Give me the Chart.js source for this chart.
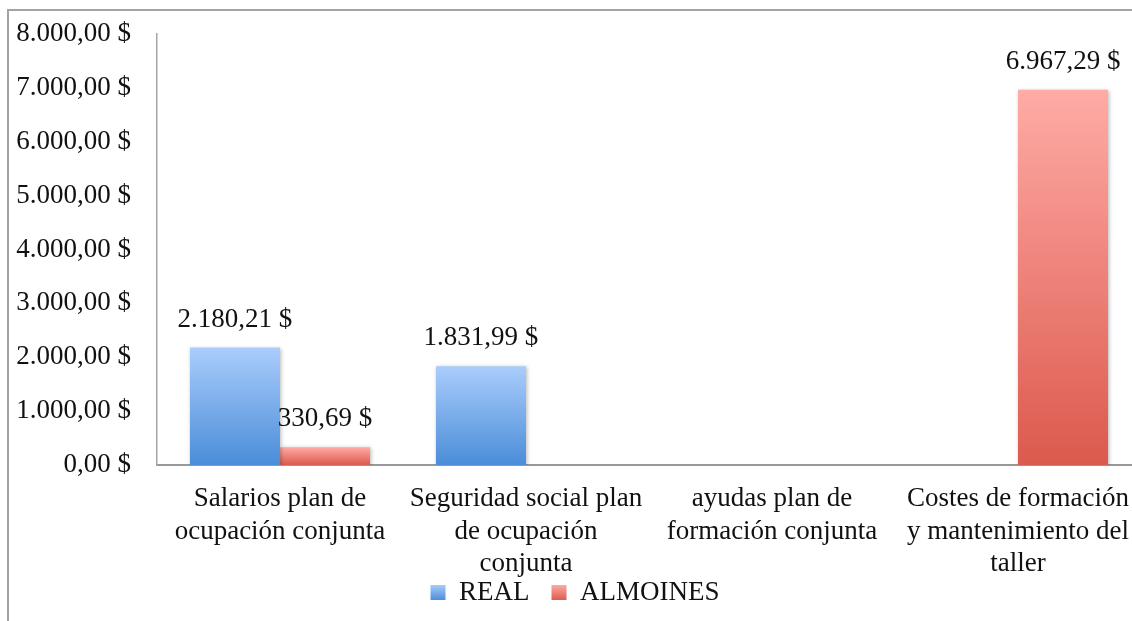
<!DOCTYPE html>
<html>
<head>
<meta charset="utf-8">
<script src="https://cdn.jsdelivr.net/npm/chart.js@4"></script>
<style>
  html, body { margin: 0; padding: 0; background: #fff; overflow: hidden; }
  body { width: 1132px; height: 621px; position: relative; }
  #frame {
    position: absolute; left: 7px; top: 9px;
    width: 1144px; height: 640px;
    border: 2px solid #a3a3a3;
  }
  #wrap { position: relative; width: 1144px; height: 640px; }
</style>
</head>
<body>
<div id="frame"><div id="wrap"><canvas id="costChart"></canvas></div></div>
<script>
// categories and series
const categories = [
  ['Salarios plan de', 'ocupación conjunta'],
  ['Seguridad social plan', 'de ocupación', 'conjunta'],
  ['ayudas plan de', 'formación conjunta'],
  ['Costes de formación', 'y mantenimiento del', 'taller']
];
const realValues = [2180.21, 1831.99, null, null];
const almoinesValues = [330.69, null, null, 6967.29];
const seriesNames = ['REAL', 'ALMOINES'];
const yTicks = [0, 1000, 2000, 3000, 4000, 5000, 6000, 7000, 8000];

const FONT = '"Liberation Serif", "Times New Roman", serif';
const BLUE = ['#aacdfc', '#4a8dd8'];
const RED = ['#ffaba6', '#dc594d'];
const LEGEND_PAD = 22;
const LEGEND_LIFT = 23;

Chart.defaults.font.family = FONT;
Chart.defaults.font.size = 27;
Chart.defaults.color = '#111';

function money(v) {
  const parts = v.toFixed(2).split('.');
  return parts[0].replace(/\B(?=(\d{3})+(?!\d))/g, '.') + ',' + parts[1] + ' $';
}

// each bar gets its own light-to-dark gradient
function barFill(colors) {
  return function (ctx) {
    const chart = ctx.chart;
    if (!chart.chartArea || ctx.raw == null) return colors[1];
    const y = chart.scales.y;
    const top = y.getPixelForValue(ctx.raw);
    const bottom = y.getPixelForValue(0);
    const g = chart.ctx.createLinearGradient(0, top, 0, bottom);
    g.addColorStop(0, colors[0]);
    g.addColorStop(1, colors[1]);
    return g;
  };
}

const barShadow = {
  id: 'barShadow',
  beforeDatasetDraw(chart) {
    const c = chart.ctx;
    c.save();
    c.shadowColor = 'rgba(0,0,0,0.28)';
    c.shadowBlur = 4;
    c.shadowOffsetX = 1;
    c.shadowOffsetY = 1;
  },
  afterDatasetDraw(chart) {
    chart.ctx.restore();
  }
};

const valueLabels = {
  id: 'valueLabels',
  afterDatasetsDraw(chart) {
    const c = chart.ctx;
    c.save();
    c.font = '27px ' + FONT;
    c.fillStyle = '#111';
    c.textAlign = 'center';
    c.textBaseline = 'middle';
    chart.data.datasets.forEach((ds, di) => {
      chart.getDatasetMeta(di).data.forEach((bar, i) => {
        const v = ds.data[i];
        if (v == null) return;
        c.fillText(money(v), bar.x, bar.y - 28);
      });
    });
    c.restore();
  }
};

// legend sits tight under the wrapped category names;
// swatches use the same vertical gradient as the bars
const legendTweak = {
  id: 'legendTweak',
  afterLayout(chart) {
    const lg = chart.legend;
    if (!lg) return;
    lg.top -= LEGEND_LIFT;
    lg.bottom -= LEGEND_LIFT;
  },
  beforeDraw(chart) {
    const lg = chart.legend;
    if (!lg || !lg.legendItems) return;
    const sets = [BLUE, RED];
    const mid = lg.top + LEGEND_PAD + 13.5;
    lg.legendItems.forEach((item, i) => {
      const g = chart.ctx.createLinearGradient(0, mid - 8, 0, mid + 8);
      g.addColorStop(0, sets[i][0]);
      g.addColorStop(1, sets[i][1]);
      item.fillStyle = g;
    });
  }
};

new Chart(document.getElementById('costChart'), {
  type: 'bar',
  data: {
    labels: categories,
    datasets: [
      { label: seriesNames[0], data: realValues, backgroundColor: barFill(BLUE), borderWidth: 0 },
      { label: seriesNames[1], data: almoinesValues, backgroundColor: barFill(RED), borderWidth: 0 }
    ]
  },
  options: {
    responsive: true,
    maintainAspectRatio: false,
    animation: false,
    layout: { padding: { top: 23, right: 12, left: 0, bottom: 12 } },
    datasets: { bar: { categoryPercentage: 0.732, barPercentage: 1 } },
    plugins: {
      tooltip: { enabled: false },
      legend: {
        position: 'bottom',
        labels: {
          boxWidth: 15, boxHeight: 15, padding: LEGEND_PAD,
          color: '#111',
          font: { family: FONT, size: 27 }
        }
      }
    },
    scales: {
      x: {
        grid: { display: false, drawTicks: false },
        border: { display: true, color: '#999', width: 2 },
        ticks: {
          color: '#111', padding: 18, maxRotation: 0, autoSkip: false,
          font: { family: FONT, size: 27, lineHeight: 1.2 }
        },
        afterFit(scale) { scale.height = 115; }
      },
      y: {
        min: yTicks[0],
        max: yTicks[yTicks.length - 1],
        grid: { display: false, drawTicks: false },
        border: { display: true, color: '#a6a6a6', width: 1.5 },
        ticks: {
          stepSize: 1000, padding: 26, color: '#111',
          font: { family: FONT, size: 27 },
          callback: v => money(v)
        },
        afterBuildTicks(scale) { scale.ticks = yTicks.map(v => ({ value: v })); },
        afterFit(scale) {
          scale.width = 148;
          scale.paddingTop = 0;
          scale.paddingBottom = 0;
        }
      }
    }
  },
  plugins: [barShadow, valueLabels, legendTweak]
});
</script>
</body>
</html>
